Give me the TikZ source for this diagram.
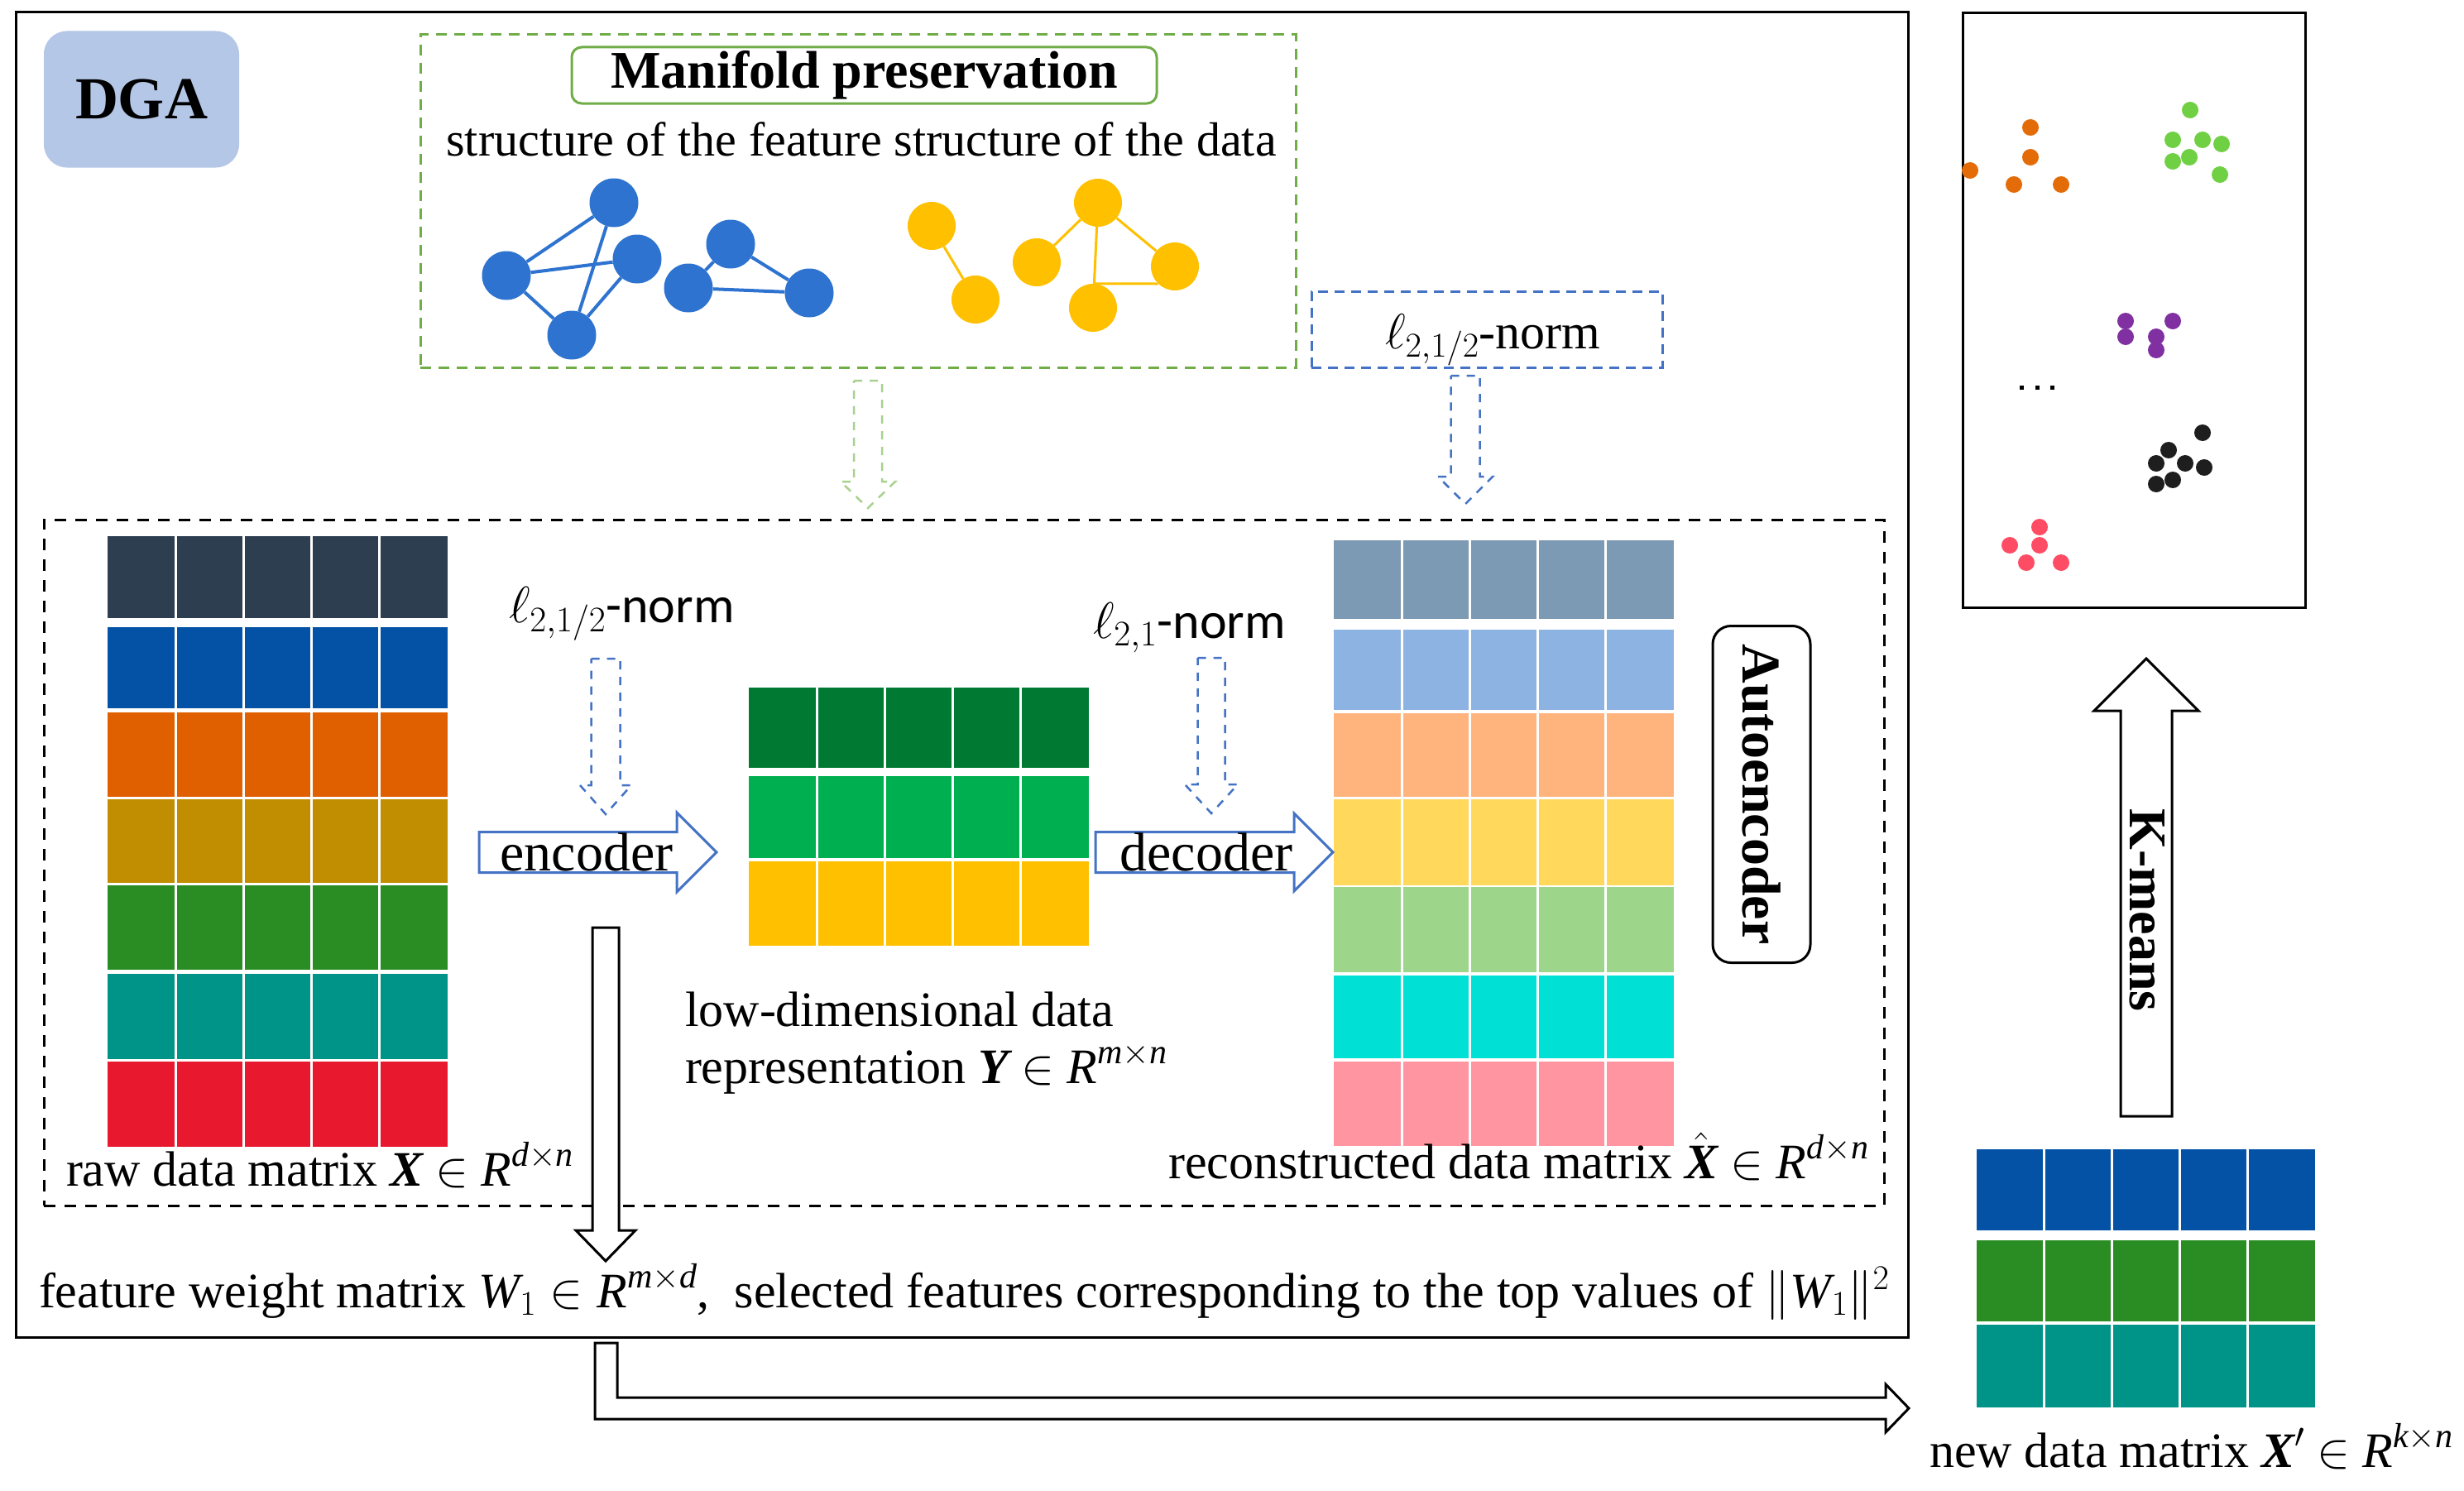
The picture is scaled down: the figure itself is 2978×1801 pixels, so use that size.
\documentclass[tikz,border=0pt]{standalone}
\usepackage{fix-cm}
\usepackage{amsmath}
\usepackage{fontspec}
\setmainfont{Liberation Serif}
\newfontfamily\calib{Carlito}
\definecolor{dgablue}{HTML}{B4C7E7}
\definecolor{mgreen}{HTML}{70AD47}
\definecolor{lgreen}{HTML}{A9D18E}
\definecolor{gblue}{HTML}{2E73CF}
\definecolor{gyellow}{HTML}{FFC000}
\definecolor{nblue}{HTML}{4472C4}
\definecolor{cOr}{HTML}{E36C09}
\definecolor{cGr}{HTML}{70D044}
\definecolor{cPu}{HTML}{8030A0}
\definecolor{cBk}{HTML}{1E1E1E}
\definecolor{cPk}{HTML}{FF4C65}
% matrix colours
\definecolor{mA}{HTML}{2C3E50}
\definecolor{mB}{HTML}{0352A6}
\definecolor{mC}{HTML}{E06000}
\definecolor{mD}{HTML}{C08E00}
\definecolor{mE}{HTML}{2A8D24}
\definecolor{mF}{HTML}{009488}
\definecolor{mG}{HTML}{E8192F}
\definecolor{yA}{HTML}{007A33}
\definecolor{yB}{HTML}{00B050}
\definecolor{yC}{HTML}{FFC000}
\definecolor{rA}{HTML}{7D9AB4}
\definecolor{rB}{HTML}{8DB3E2}
\definecolor{rC}{HTML}{FFB47E}
\definecolor{rD}{HTML}{FFD85C}
\definecolor{rE}{HTML}{9DD68B}
\definecolor{rF}{HTML}{00E0D5}
\definecolor{rG}{HTML}{FF95A1}
\newcommand{\ti}[1]{\text{\itshape #1}}
\newcommand{\tb}[1]{\text{\bfseries\itshape #1}}
\newcommand{\mrow}[5]{% x0 x1 y0 y1 colour
  \fill[#5] (#1,#3) rectangle (#2,#4);
  \foreach \k in {1,...,4}{\draw[white, line width=3pt] ({#1+(#2-#1)*\k/5},#3) -- ({#1+(#2-#1)*\k/5},#4);}}
\newcommand{\vdarrow}[7]{% x ytop ybase ytip hb hh style
  \draw[#7] ({#1-#5},#2) -- ({#1+#5},#2) -- ({#1+#5},#3) -- ({#1+#6},#3) -- (#1,#4) -- ({#1-#6},#3) -- ({#1-#5},#3) -- cycle;}
\newcommand{\hrarrow}[7]{% ymid xleft xbase xtip hb hh style
  \draw[#7] (#2,{#1-#5}) -- (#3,{#1-#5}) -- (#3,{#1-#6}) -- (#4,#1) -- (#3,{#1+#6}) -- (#3,{#1+#5}) -- (#2,{#1+#5}) -- cycle;}
\tikzset{
  framebox/.style={draw, line width=3pt, inner sep=0pt, outer sep=0pt},
  txt/.style={inner sep=0pt, outer sep=0pt, font=\fontsize{60}{70}\selectfont},
  normtxt/.style={inner sep=0pt, outer sep=0pt, font=\fontsize{62}{70}\selectfont},
  gnodeb/.style={circle, fill=gblue, minimum size=59pt, inner sep=0pt},
  gnodey/.style={circle, fill=gyellow, minimum size=58pt, inner sep=0pt},
  gedgeb/.style={draw=gblue, line width=4pt},
  gedgey/.style={draw=gyellow, line width=3pt},
  blockarrow/.style={line width=3pt, fill=white, line join=miter},
  dasharrow/.style={line width=2.5pt, dash pattern=on 10pt off 9pt},
}
\begin{document}
\begin{tikzpicture}[x=1pt,y=-1pt]
\useasboundingbox (0,0) rectangle (2978,1801);
\fill[white] (0,0) rectangle (2978,1801);

% outer frames
\node[framebox, minimum width=2287pt, minimum height=1601pt] (outer) at (1162.5,815.5) {};
\node[framebox, minimum width=414pt, minimum height=718pt] (cbox) at (2579,375) {};

% DGA
\node[fill=dgablue, rounded corners=28pt, minimum width=236pt, minimum height=165pt, inner sep=0pt,
      font=\fontsize{72}{80}\selectfont\bfseries] (dga) at (171,120) {DGA};

% manifold preservation box
\node[draw=mgreen, line width=3pt, dash pattern=on 13pt off 9pt, minimum width=1058pt, minimum height=402pt, inner sep=0pt] (mbox) at (1037,243) {};
\node[draw=mgreen, line width=3pt, rounded corners=12pt, minimum width=707pt, minimum height=68pt, inner sep=0pt,
      font=\fontsize{64}{70}\selectfont\bfseries] (mtitle) at (1044.5,91) {Manifold preservation};
\node[inner sep=0pt, font=\fontsize{58}{68}\selectfont, anchor=base] (stxt) at (1041,188) {structure of the feature structure of the data};

% blue graph
\node[gnodeb] (bn1) at (742,245) {};
\node[gnodeb] (bn2) at (612,333) {};
\node[gnodeb] (bn3) at (770,313) {};
\node[gnodeb] (bn4) at (883,295) {};
\node[gnodeb] (bn5) at (832,348) {};
\node[gnodeb] (bn6) at (978,354) {};
\node[gnodeb] (bn7) at (691,405) {};
\draw[gedgeb] (bn1) -- (bn2) (bn1) -- (bn7) (bn2) -- (bn3) (bn2) -- (bn7) (bn3) -- (bn7)
              (bn4) -- (bn5) (bn4) -- (bn6) (bn5) -- (bn6);
% yellow graph
\node[gnodey] (yn1) at (1126,273) {};
\node[gnodey] (yn2) at (1179,362) {};
\node[gnodey] (yn3) at (1327,245) {};
\node[gnodey] (yn4) at (1253,317) {};
\node[gnodey] (yn5) at (1420,322) {};
\node[gnodey] (yn6) at (1321,372) {};
\draw[gedgey] (yn1) -- (yn2) (yn3) -- (yn4) (yn3) -- (yn6) (yn3) -- (yn5) (yn6.north) -- (yn5.226);

% l_{2,1/2} norm box
\node[draw=nblue, line width=3pt, dash pattern=on 12pt off 8pt, minimum width=424pt, minimum height=92pt, inner sep=0pt] (nbox) at (1797,398) {};
\node[txt, anchor=base west] (nlab) at (1674,421) {$\ell_{2,1/2}$-norm};

% dashed arrows from top boxes
\vdarrow{1049}{460}{582}{614}{17}{33}{dasharrow, draw=lgreen}
\vdarrow{1771}{454}{576}{609}{17.5}{33}{dasharrow, draw=nblue}

% autoencoder dashed frame
\node[draw, line width=3pt, dash pattern=on 14pt off 11pt, minimum width=2224pt, minimum height=829pt, inner sep=0pt] (aebox) at (1165,1042.5) {};

% raw data matrix
\mrow{130}{541}{648}{747}{mA}
\mrow{130}{541}{758}{856}{mB}
\mrow{130}{541}{861}{963}{mC}
\mrow{130}{541}{966}{1067}{mD}
\mrow{130}{541}{1070}{1172}{mE}
\mrow{130}{541}{1177}{1280}{mF}
\mrow{130}{541}{1283}{1386}{mG}
\node[txt, anchor=base west] (rawtxt) at (80,1433) {raw data matrix \tb{X} $\in$ $\ti{R}^{\ti{d}\times\ti{n}}$};

% low dimensional matrix
\mrow{905}{1316}{831}{928}{yA}
\mrow{905}{1316}{938}{1037}{yB}
\mrow{905}{1316}{1041}{1143}{yC}
\node[txt, anchor=base west] (ytxt1) at (828,1240) {low-dimensional data};
\node[txt, anchor=base west] (ytxt2) at (828,1309) {representation \tb{Y} $\in$ $\ti{R}^{\ti{m}\times\ti{n}}$};

% reconstructed matrix
\mrow{1612}{2023}{653}{748}{rA}
\mrow{1612}{2023}{761}{858}{rB}
\mrow{1612}{2023}{862}{963}{rC}
\mrow{1612}{2023}{966}{1070}{rD}
\mrow{1612}{2023}{1072}{1175}{rE}
\mrow{1612}{2023}{1179}{1279}{rF}
\mrow{1612}{2023}{1283}{1385}{rG}
\node[txt, anchor=base west] (rectxt) at (1412,1424) {reconstructed data matrix $\hat{\tb{X}}$ $\in$ $\ti{R}^{\ti{d}\times\ti{n}}$};

% norms and dashed arrows
\node[normtxt, anchor=base west] (enorm) at (615,752) {$\ell_{2,1/2}${\calib -norm}};
\node[normtxt, anchor=base west] (dnorm) at (1321,771) {$\ell_{2,1}${\calib -norm}};
\vdarrow{732}{796}{949}{984}{17.5}{31}{dasharrow, draw=nblue}
\vdarrow{1464}{795}{948}{983}{16.5}{32}{dasharrow, draw=nblue}

% encoder / decoder arrows
\hrarrow{1030}{579}{818}{866}{24.5}{48}{blockarrow, draw=nblue}
\node[inner sep=0pt, font=\fontsize{66}{70}\selectfont, anchor=base] (enc) at (709,1052) {encoder};
\hrarrow{1030}{1324}{1564}{1611}{24.5}{47}{blockarrow, draw=nblue}
\node[inner sep=0pt, font=\fontsize{66}{70}\selectfont, anchor=base] (dec) at (1458,1052) {decoder};

% autoencoder label
\node[draw, line width=3pt, rounded corners=22pt, rotate=-90, minimum width=407pt, minimum height=118pt, inner sep=0pt,
      font=\fontsize{66}{70}\selectfont\bfseries] (ae) at (2129,960) {Autoencoder};

% feature weight arrow and text
\vdarrow{732}{1121}{1487}{1524}{16}{36}{blockarrow, draw=black}
\node[txt, anchor=base west] (fwtxt) at (47,1580) {feature weight matrix $\ti{W}_1 \in \ti{R}^{\ti{m}\times\ti{d}}$,\enspace selected features corresponding to the top values of $\|\ti{W}_1\|^2$};

% L-shaped arrow
\draw[blockarrow, draw=black] (719,1623) -- (746,1623) -- (746,1689) -- (2279,1689) -- (2279,1673) -- (2307,1702)
   -- (2279,1731) -- (2279,1715) -- (719,1715) -- cycle;

% new data matrix
\mrow{2389}{2798}{1389}{1487}{mB}
\mrow{2389}{2798}{1499}{1597}{mE}
\mrow{2389}{2798}{1601}{1701}{mF}
\node[txt, anchor=base west] (newtxt) at (2332,1773) {new data matrix $\tb{X}'$ $\in$ $\ti{R}^{\ti{k}\times\ti{n}}$};

% K-means arrow
\vdarrow{2594}{1349}{859}{796}{31}{63}{blockarrow, draw=black}
\node[rotate=-90, inner sep=0pt, font=\fontsize{64}{70}\selectfont\bfseries] (km) at (2595,1100) {K-means};

% clusters
\foreach \p in {(2454,154),(2454,190),(2381,206),(2434,223),(2491,223)} \fill[cOr] \p circle[radius=10];
\foreach \p in {(2647,133),(2626,169),(2662,169),(2685,174),(2626,195),(2646,190),(2683,211)} \fill[cGr] \p circle[radius=10];
\foreach \p in {(2569,388),(2569,407),(2626,388),(2606,407),(2606,423)} \fill[cPu] \p circle[radius=10];
\foreach \p in {(2662,523),(2621,544),(2606,560),(2641,560),(2664,565),(2606,585),(2626,580)} \fill[cBk] \p circle[radius=10];
\foreach \p in {(2465,637),(2429,659),(2465,659),(2449,680),(2491,680)} \fill[cPk] \p circle[radius=10];
\foreach \q in {2443,2462,2480} \fill[black] (\q-2.5,465.5) rectangle (\q+2.5,470.5);
\end{tikzpicture}
\end{document}
